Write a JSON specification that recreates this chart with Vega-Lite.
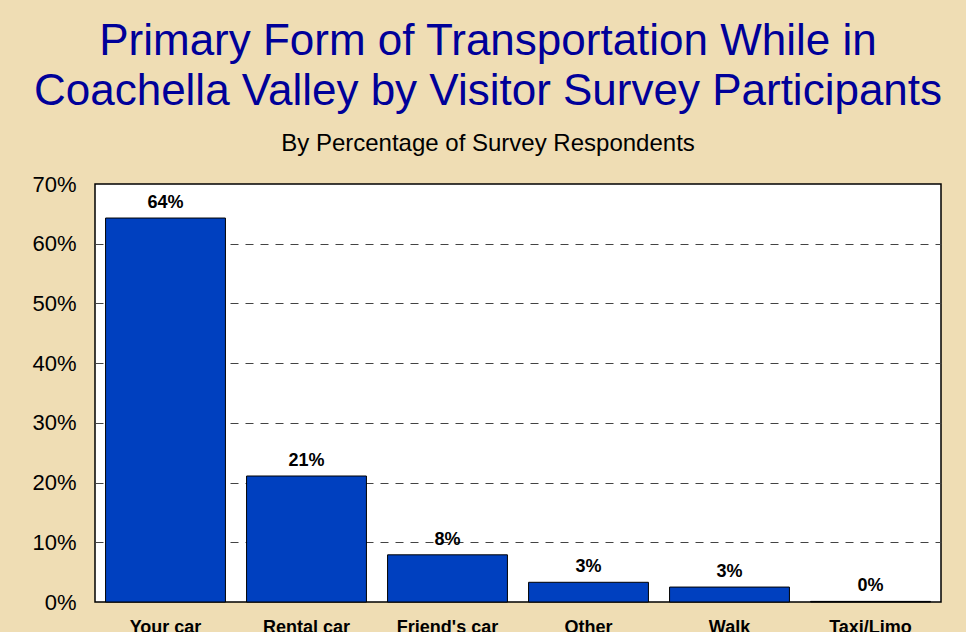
{
  "$schema": "https://vega.github.io/schema/vega-lite/v6.json",
  "width": 846,
  "height": 418,
  "autosize": {"type": "none"},
  "padding": {"left": 95, "top": 184, "right": 25, "bottom": 30},
  "background": "#EFDDB4",
  "config": {
    "font": "Liberation Sans",
    "view": {"fill": "white", "stroke": "black", "strokeWidth": 1.5}
  },
  "title": {
    "text": ["Primary Form of Transportation While in", "Coachella Valley by Visitor Survey Participants"],
    "subtitle": "By Percentage of Survey Respondents",
    "fontSize": 44,
    "fontWeight": "normal",
    "color": "#000099",
    "lineHeight": 50,
    "subtitleFontSize": 24,
    "subtitleColor": "black",
    "subtitlePadding": 18,
    "anchor": "middle",
    "offset": 17,
    "dx": -30
  },
  "data": {
    "values": [
      {"mode": "Your car", "value": 64.3, "label": "64%"},
      {"mode": "Rental car", "value": 21.1, "label": "21%"},
      {"mode": "Friend's car", "value": 7.9, "label": "8%"},
      {"mode": "Other", "value": 3.3, "label": "3%"},
      {"mode": "Walk", "value": 2.5, "label": "3%"},
      {"mode": "Taxi/Limo", "value": 0.1, "label": "0%"}
    ]
  },
  "encoding": {
    "x": {
      "field": "mode", "type": "nominal", "sort": null,
      "scale": {"paddingInner": 0.15, "paddingOuter": 0.075},
      "axis": {"title": null, "labelAngle": 0, "labelFontSize": 18, "labelFontWeight": "bold", "labelColor": "black", "ticks": false, "domain": false, "labelPadding": 16}
    },
    "y": {
      "field": "value", "type": "quantitative",
      "scale": {"domain": [0, 70], "nice": false},
      "axis": {
        "title": null,
        "values": [0, 10, 20, 30, 40, 50, 60, 70],
        "labelExpr": "datum.value + '%'",
        "labelFontSize": 22,
        "labelColor": "black",
        "ticks": false,
        "domain": false,
        "labelPadding": 19,
        "gridDash": [8, 7],
        "gridColor": "#444444",
        "gridWidth": 1,
        "gridOpacity": {"condition": {"test": "datum.value == 0 || datum.value == 70", "value": 0}, "value": 1}
      }
    }
  },
  "layer": [
    {"mark": {"type": "bar", "color": "#0040BF", "stroke": "black", "strokeWidth": 1}},
    {"mark": {"type": "text", "fontSize": 18, "fontWeight": "bold", "baseline": "alphabetic", "dy": -10, "color": "black"}, "encoding": {"text": {"field": "label"}}}
  ]
}
